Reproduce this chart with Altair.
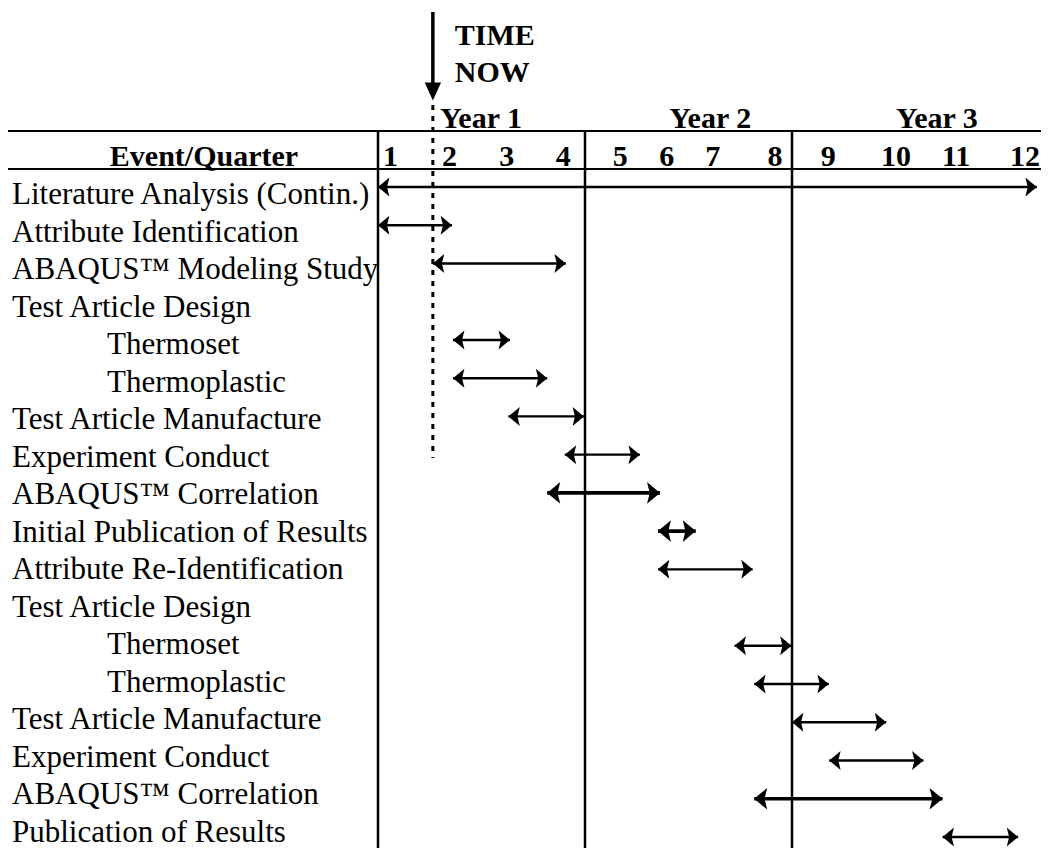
import altair as alt
import pandas as pd

# ---------------- data ----------------
labels = ["Literature Analysis (Contin.)", "Attribute Identification", "ABAQUS™ Modeling Study",
          "Test Article Design", "Thermoset", "Thermoplastic", "Test Article Manufacture",
          "Experiment Conduct", "ABAQUS™ Correlation", "Initial Publication of Results",
          "Attribute Re-Identification", "Test Article Design", "Thermoset", "Thermoplastic",
          "Test Article Manufacture", "Experiment Conduct", "ABAQUS™ Correlation",
          "Publication of Results"]
indent = [0, 0, 0, 0, 1, 1, 0, 0, 0, 0, 0, 0, 1, 1, 0, 0, 0, 0]
# arrow start / end in quarters (0 = start of quarter 1)
starts = [0.0, 0.0, 1.06, None, 1.45, 1.45, 2.52, 3.61, 3.27, 5.41, 5.41, None,
          6.89, 7.27, 8.0, 8.72, 7.27, 10.91]
ends = [12.73, 1.43, 3.63, None, 2.55, 3.27, 3.98, 5.06, 5.45, 6.14, 7.24, None,
        7.99, 8.71, 9.82, 10.54, 10.91, 12.37]
heavy = [0, 0, 0, 0, 0, 0, 0, 0, 1, 1, 0, 0, 0, 0, 0, 0, 1, 0]

quarters = [str(i) for i in range(1, 13)]
quarter_pos = [0.24, 1.38, 2.49, 3.58, 4.68, 5.58, 6.47, 7.67, 8.70, 10.01, 11.17, 12.50]
years = ["Year 1", "Year 2", "Year 3"]
year_pos = [1.99, 6.42, 10.80]
year_bounds = [0, 4, 8]
time_now = 1.06

# ---------------- tables ----------------
rows = pd.DataFrame({"row": list(range(len(labels))), "label": labels, "indent": indent})
arr = pd.DataFrame({"row": list(range(len(labels))), "start": starts, "end": ends, "heavy": heavy})
arr = arr.dropna(subset=["start"]).reset_index(drop=True)
arr["sw"] = [3.6 if h else 2.4 for h in arr["heavy"]]
arr["hs"] = [470 if h else 360 for h in arr["heavy"]]

qdf = pd.DataFrame({"q": quarters, "pos": quarter_pos})
ydf = pd.DataFrame({"year": years, "pos": year_pos})
bdf = pd.DataFrame({"b": year_bounds})
tdf = pd.DataFrame({"t": [time_now]})
one = pd.DataFrame({"a": [0]})

FONT = "Liberation Serif"
xs = alt.Scale(domain=[0, 12], range=[370, 991], nice=False, zero=False)
ys_arrow = alt.Scale(domain=[0, 17], range=[179, 829], nice=False, zero=False)
ys_text = alt.Scale(domain=[0, 17], range=[196, 834], nice=False, zero=False)

LEFT = "M0,0 L1.2,-1 L0.95,0 L1.2,1 Z"
RIGHT = "M0,0 L-1.2,-1 L-0.95,0 L-1.2,1 Z"
DOWN = "M0,1 L-0.9,-1 L0.9,-1 Z"

# ---------------- grid lines ----------------
hline1 = alt.Chart(one).mark_rule(color="black", strokeWidth=2).encode(
    x=alt.value(0), x2=alt.value(1033), y=alt.value(123))
hline2 = alt.Chart(one).mark_rule(color="black", strokeWidth=2).encode(
    x=alt.value(0), x2=alt.value(1033), y=alt.value(161))
vlines = alt.Chart(bdf).mark_rule(color="black", strokeWidth=2.5).encode(
    x=alt.X("b:Q", scale=xs, axis=None), y=alt.value(123), y2=alt.value(840))

# ---------------- header texts ----------------
hdr = alt.Chart(one).mark_text(font=FONT, fontSize=30, fontWeight="bold", align="center",
                               baseline="alphabetic", color="black").encode(
    x=alt.value(196), y=alt.value(158), text=alt.value("Event/Quarter"))
qtext = alt.Chart(qdf).mark_text(font=FONT, fontSize=30, fontWeight="bold", align="center",
                                 baseline="alphabetic", color="black").encode(
    x=alt.X("pos:Q", scale=xs, axis=None), y=alt.value(158), text="q:N")
ytext = alt.Chart(ydf).mark_text(font=FONT, fontSize=30, fontWeight="bold", align="center",
                                 baseline="alphabetic", color="black").encode(
    x=alt.X("pos:Q", scale=xs, axis=None), y=alt.value(120), text="year:N")

# ---------------- time now marker ----------------
tshaft = alt.Chart(tdf).mark_rule(color="black", strokeWidth=3.5).encode(
    x=alt.X("t:Q", scale=xs, axis=None), y=alt.value(4), y2=alt.value(80))
thead = alt.Chart(tdf).mark_point(shape=DOWN, filled=True, color="black", opacity=1,
                                  size=330, strokeWidth=0).encode(
    x=alt.X("t:Q", scale=xs, axis=None), y=alt.value(83.5))
tdots = alt.Chart(tdf).mark_rule(color="black", strokeWidth=3, strokeDash=[5, 6]).encode(
    x=alt.X("t:Q", scale=xs, axis=None), y=alt.value(97), y2=alt.value(450))
ttxt1 = alt.Chart(tdf).mark_text(font=FONT, fontSize=30, fontWeight="bold", align="left",
                                 baseline="alphabetic", dx=22, color="black").encode(
    x=alt.X("t:Q", scale=xs, axis=None), y=alt.value(37), text=alt.value("TIME"))
ttxt2 = alt.Chart(tdf).mark_text(font=FONT, fontSize=30, fontWeight="bold", align="left",
                                 baseline="alphabetic", dx=22, color="black").encode(
    x=alt.X("t:Q", scale=xs, axis=None), y=alt.value(74), text=alt.value("NOW"))

# ---------------- arrows ----------------
shaft = alt.Chart(arr).mark_rule(color="black").encode(
    x=alt.X("start:Q", scale=xs, axis=None), x2="end:Q",
    y=alt.Y("row:Q", scale=ys_arrow, axis=None),
    strokeWidth=alt.StrokeWidth("sw:Q", scale=None))
lhead = alt.Chart(arr).mark_point(shape=LEFT, filled=True, color="black", opacity=1,
                                  strokeWidth=0).encode(
    x=alt.X("start:Q", scale=xs, axis=None),
    y=alt.Y("row:Q", scale=ys_arrow, axis=None),
    size=alt.Size("hs:Q", scale=None))
rhead = alt.Chart(arr).mark_point(shape=RIGHT, filled=True, color="black", opacity=1,
                                  strokeWidth=0).encode(
    x=alt.X("end:Q", scale=xs, axis=None),
    y=alt.Y("row:Q", scale=ys_arrow, axis=None),
    size=alt.Size("hs:Q", scale=None))
arrows = alt.layer(shaft, lhead, rhead)

# ---------------- row labels ----------------
lab0 = alt.Chart(rows).transform_filter("datum.indent == 0").mark_text(
    font=FONT, fontSize=31, align="left", baseline="alphabetic", color="black").encode(
    x=alt.value(4), y=alt.Y("row:Q", scale=ys_text, axis=None), text="label:N")
lab1 = alt.Chart(rows).transform_filter("datum.indent == 1").mark_text(
    font=FONT, fontSize=31, align="left", baseline="alphabetic", color="black").encode(
    x=alt.value(99), y=alt.Y("row:Q", scale=ys_text, axis=None), text="label:N")
labs = alt.layer(lab0, lab1)

chart = alt.layer(
    hline1, hline2, vlines, hdr, qtext, ytext,
    tshaft, thead, tdots, ttxt1, ttxt2,
    arrows, labs
).resolve_scale(y="independent").properties(
    width=1033, height=840, padding=0, autosize="none", background="white"
).configure_view(stroke=None)

chart.save("out.html", embed_options={"renderer": "svg", "actions": False})
